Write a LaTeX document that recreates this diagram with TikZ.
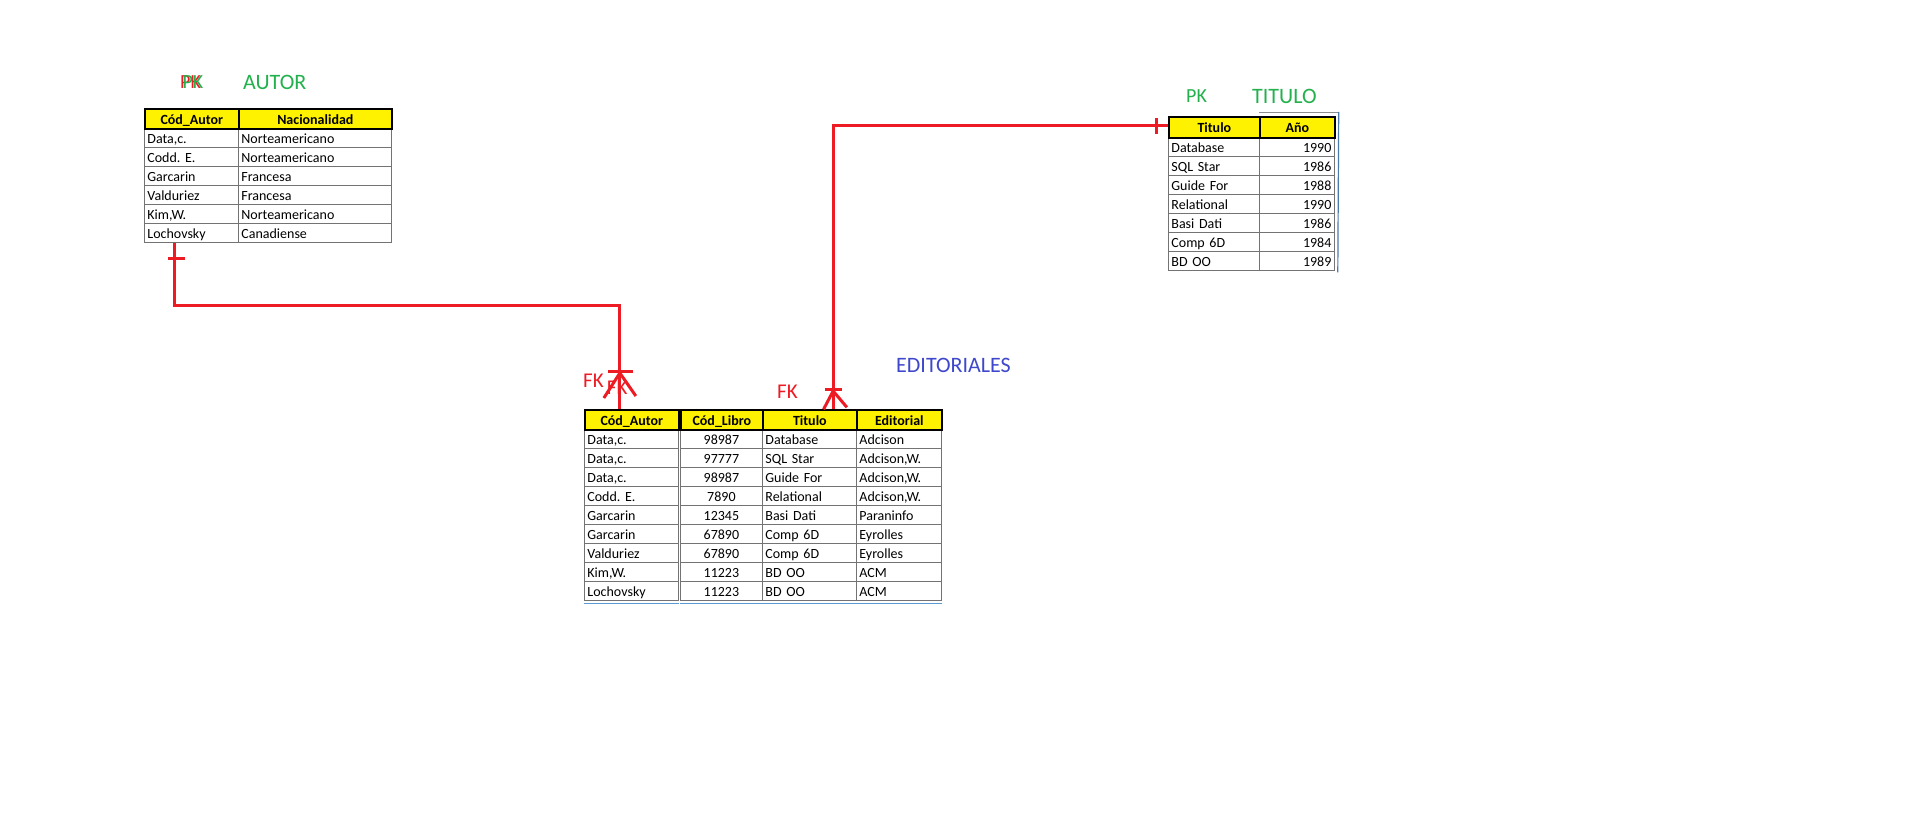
\documentclass[tikz,border=0pt]{standalone}
\usepackage{fontspec}
\setmainfont{Carlito}
\usetikzlibrary{calc}
\definecolor{pred}{RGB}{237,28,36}
\definecolor{pgreen}{RGB}{34,177,76}
\definecolor{pblue}{RGB}{63,72,204}
\definecolor{xlblue}{RGB}{91,155,213}
\newcommand\tabfont{\fontsize{14}{16}\selectfont\frenchspacing}
\newcommand\tcell[7]{%
  \pgfmathsetmacro\tcw{#4-#2}\pgfmathsetmacro\tch{#5-#3}\pgfmathsetmacro\tctw{#4-#2-6}%
  \node[#6, minimum width=\tcw pt, minimum height=\tch pt, text width=\tctw pt, anchor=north west] (#1) at (#2,-#3) {#7};}
\newcommand\arow[5]{% idx, ytop, ybot, c1, c2
  \tcell{a#1c1}{144}{#2}{238}{#3}{tl}{#4}%
  \tcell{a#1c2}{238}{#2}{391}{#3}{tl}{#5}}
\newcommand\erow[7]{% idx, ytop, ybot, c1..c4
  \tcell{e#1c1}{584}{#2}{678}{#3}{tl}{#4}%
  \tcell{e#1c2}{680}{#2}{762}{#3}{tc}{#5}%
  \tcell{e#1c3}{762}{#2}{856}{#3}{tl}{#6}%
  \tcell{e#1c4}{856}{#2}{941}{#3}{tl}{#7}}
\newcommand\trow[5]{% idx, ytop, ybot, c1, c2
  \tcell{t#1c1}{1168}{#2}{1259}{#3}{tl}{#4}%
  \tcell{t#1c2}{1259}{#2}{1334}{#3}{tr}{#5}}
\begin{document}
\begin{tikzpicture}[x=1pt,y=1pt,
  tb/.style={draw=black!55, line width=0.8pt, inner xsep=3pt, inner ysep=0pt,
    text height=15pt, text depth=4pt, font=\tabfont},
  tl/.style={tb, align=left},
  tc/.style={tb, align=center},
  tr/.style={tb, align=right},
  hd/.style={tb, align=center, fill=yellow, draw=black, line width=1.7pt, font=\tabfont\bfseries},
  rel/.style={draw=pred, line width=3pt},
  lbl/.style={anchor=west, inner sep=0pt},
  title/.style={lbl, font=\fontsize{22}{24}\selectfont},
  keyl/.style={lbl, font=\fontsize{20}{22}\selectfont}]
\useasboundingbox (0,0) rectangle (1914,-829);
\fill[white] (0,0) rectangle (1914,-829);

% ---------- AUTOR ----------
\arow{1}{128}{147}{Data,c.}{Norteamericano}
\arow{2}{147}{166}{Codd. E.}{Norteamericano}
\arow{3}{166}{185}{Garcarin}{Francesa}
\arow{4}{185}{204}{Valduriez}{Francesa}
\arow{5}{204}{223}{Kim,W.}{Norteamericano}
\arow{6}{223}{242}{Lochovsky}{Canadiense}
\tcell{a0c1}{144}{108}{238}{128}{hd}{Cód\_Autor}
\tcell{a0c2}{238}{108}{391}{128}{hd}{Nacionalidad}
\node[keyl, text=pred] (pka) at (180,-81.7) {PK};
\node[keyl, text=pgreen] (pkb) at (182.3,-81.7) {PK};
\node[title, text=pgreen] (autor) at (243,-82) {AUTOR};

% ---------- EDITORIALES ----------
\erow{1}{429}{448}{Data,c.}{98987}{Database}{Adcison}
\erow{2}{448}{467}{Data,c.}{97777}{SQL Star}{Adcison,W.}
\erow{3}{467}{486}{Data,c.}{98987}{Guide For}{Adcison,W.}
\erow{4}{486}{505}{Codd. E.}{7890}{Relational}{Adcison,W.}
\erow{5}{505}{524}{Garcarin}{12345}{Basi Dati}{Paraninfo}
\erow{6}{524}{543}{Garcarin}{67890}{Comp 6D}{Eyrolles}
\erow{7}{543}{562}{Valduriez}{67890}{Comp 6D}{Eyrolles}
\erow{8}{562}{581}{Kim,W.}{11223}{BD OO}{ACM}
\erow{9}{581}{600}{Lochovsky}{11223}{BD OO}{ACM}
\tcell{e0c1}{584}{409}{678}{429}{hd}{Cód\_Autor}
\tcell{e0c2}{680}{409}{762}{429}{hd}{Cód\_Libro}
\tcell{e0c3}{762}{409}{856}{429}{hd}{Titulo}
\tcell{e0c4}{856}{409}{941}{429}{hd}{Editorial}
\draw[xlblue, line width=1.2pt] ([yshift=-2.5pt]e9c1.south west) -- ([yshift=-2.5pt]e9c1.south east);
\draw[xlblue, line width=1.2pt] ([yshift=-2.5pt]e9c2.south west) -- ([yshift=-2.5pt]e9c4.south east);
\node[title, text=pblue] (edit) at (896,-365.7) {EDITORIALES};

% ---------- TITULO ----------
\trow{1}{137}{156}{Database}{1990}
\trow{2}{156}{175}{SQL Star}{1986}
\trow{3}{175}{194}{Guide For}{1988}
\trow{4}{194}{213}{Relational}{1990}
\trow{5}{213}{232}{Basi Dati}{1986}
\trow{6}{232}{251}{Comp 6D}{1984}
\trow{7}{251}{270}{BD OO}{1989}
\tcell{t0c1}{1168}{116}{1259}{137}{hd}{Titulo}
\tcell{t0c2}{1259}{116}{1334}{137}{hd}{Año}
\draw[black!45, line width=1pt] ([yshift=3pt]t0c2.north west) -- ([xshift=3pt,yshift=3pt]t0c2.north east);
\draw[xlblue!80!black, line width=1.2pt] ([xshift=3pt,yshift=4pt]t0c2.north east) -- ([xshift=3pt,yshift=-1.5pt]t7c2.south east);
\node[keyl, text=pgreen] (pkt) at (1186,-96) {PK};
\node[title, text=pgreen] (titulo) at (1252,-96) {TITULO};

% ---------- relationship AUTOR -> EDITORIALES ----------
\draw[rel] ([xshift=-17pt]a6c1.south) -- ++(0,-63) -| ([xshift=-12pt]e0c1.north);
\draw[rel] ([xshift=-23pt,yshift=-16pt]a6c1.south) -- ++(17,0);
\draw[rel] ([xshift=-23.5pt,yshift=38pt]e0c1.north) -- ++(25,0);
\draw[rel] ([xshift=-12pt,yshift=36pt]e0c1.north) -- ([xshift=-28pt,yshift=11pt]e0c1.north);
\draw[rel] ([xshift=-12pt,yshift=36pt]e0c1.north) -- ([xshift=4pt,yshift=13pt]e0c1.north);
\node[keyl, text=pred, font=\fontsize{21}{23}\selectfont] (fk1) at (583,-380.7) {FK};
\node[keyl, text=pred, font=\fontsize{21}{23}\selectfont] (fk1b) at (606.7,-388) {FK};

% ---------- relationship TITULO -> EDITORIALES ----------
\draw[rel] ([yshift=1.5pt]t0c1.west) -| ([xshift=23.3pt]e0c3.north);
\draw[rel] ([xshift=-12pt,yshift=9.5pt]t0c1.west) -- ++(0,-16);
\draw[rel] ([xshift=15pt,yshift=19.7pt]e0c3.north) -- ++(16.7,0);
\draw[rel] ([xshift=23.3pt,yshift=18pt]e0c3.north) -- ([xshift=13.7pt,yshift=-0.3pt]e0c3.north);
\draw[rel] ([xshift=23.3pt,yshift=18pt]e0c3.north) -- ([xshift=37pt,yshift=1.7pt]e0c3.north);
\node[keyl, text=pred, font=\fontsize{21}{23}\selectfont] (fk2) at (777,-391.7) {FK};
\end{tikzpicture}
\end{document}
